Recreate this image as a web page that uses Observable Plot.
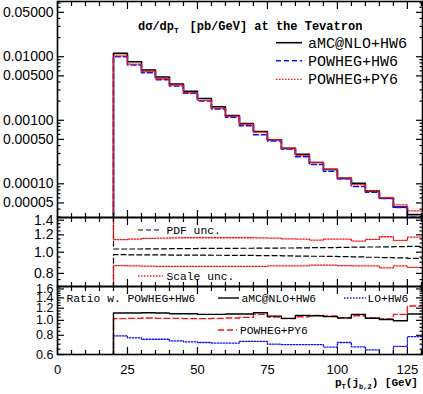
<!DOCTYPE html>
<html><head><meta charset="utf-8">
<script src="https://cdn.jsdelivr.net/npm/d3@7"></script>
<script src="https://cdn.jsdelivr.net/npm/@observablehq/plot@0.6"></script>
<style>
body{margin:0;background:#fff;}
#wrap{position:relative;width:423px;height:394px;overflow:hidden;background:#fff;}
#wrap svg{position:absolute;left:0;}
</style></head><body><div id="wrap"></div>
<script>
// ---- data (bin lower edges, 5 GeV bins) ----
const binLo = [20,25,30,35,40,45,50,55,60,65,70,75,80,85,90,95,100,105,110,115,120,125];
const binHi = 130;
const aMC = [0.0113,0.00835,0.00619,0.00481,0.00373,0.00287,0.00220,0.00163,0.00119,0.000891,0.000667,0.000495,0.000361,0.000291,0.000216,0.000169,0.000122,0.000102,0.0000766,0.0000594,0.0000430,0.0000327];
const powhegHW6 = [0.0100,0.00741,0.00561,0.00436,0.00347,0.00267,0.00202,0.00151,0.00112,0.000820,0.000593,0.000472,0.000354,0.000268,0.000201,0.000158,0.000120,0.0000907,0.0000738,0.0000589,0.0000425,0.0000297];
const powhegPY6 = [0.0103,0.00764,0.00581,0.00450,0.00358,0.00272,0.00206,0.00155,0.00116,0.000866,0.000649,0.000496,0.000363,0.000283,0.000217,0.000169,0.000124,0.0000972,0.0000768,0.0000604,0.0000465,0.0000375];
const scaleUp = [1.140,1.148,1.156,1.160,1.162,1.164,1.164,1.164,1.164,1.164,1.162,1.160,1.150,1.148,1.136,1.148,1.148,1.124,1.144,1.176,1.132,1.172];
const pdfUp   = [1.034,1.034,1.036,1.036,1.038,1.038,1.040,1.040,1.041,1.042,1.043,1.044,1.045,1.046,1.048,1.050,1.052,1.054,1.056,1.058,1.060,1.063];
const pdfLo   = [0.974,0.972,0.971,0.971,0.970,0.970,0.969,0.968,0.967,0.966,0.965,0.964,0.962,0.960,0.958,0.956,0.954,0.951,0.948,0.945,0.941,0.937];
const scaleLo = [0.868,0.866,0.864,0.862,0.862,0.862,0.862,0.862,0.862,0.862,0.862,0.866,0.866,0.866,0.872,0.872,0.868,0.866,0.866,0.847,0.866,0.852];
const ratioAMC = [1.116,1.116,1.120,1.116,1.105,1.105,1.094,1.094,1.100,1.100,1.120,1.065,1.030,1.078,1.072,1.058,1.038,1.094,1.032,1.013,0.994,1.100];
const ratioPY6 = [1.026,1.031,1.036,1.031,1.031,1.026,1.026,1.031,1.036,1.046,1.094,1.051,1.026,1.056,1.078,1.067,1.036,1.072,1.038,1.023,1.094,1.240];
const ratioLO  = [0.792,0.770,0.754,0.754,0.735,0.725,0.718,0.712,0.712,0.730,0.730,0.700,0.695,0.695,0.695,0.671,0.718,0.673,0.643,0.580,0.677,0.783];
// ---- ticks ----
const xMajor = [0,25,50,75,100,125];
const mainMajor = [0.05,0.01,0.005,0.001,0.0005,0.0001,0.00005];
const midMajor = [1.4,1.2,1.0,0.8];
const ratioMajor = [1.6,1.4,1.2,1.0,0.8,0.6];

const xMinor = d3.range(5,131,5).filter(v => v % 25 !== 0);
const mainMinor = [];
[-5,-4,-3,-2].forEach(e => d3.range(1,10).forEach(k => { const v = k*Math.pow(10,e); if (v>2.95e-5 && v<0.074 && !mainMajor.some(m=>Math.abs(m-v)/v<1e-6)) mainMinor.push(v); }));
const midMinor = d3.range(0.70,1.4401,0.05).filter(v => !midMajor.some(m=>Math.abs(m-v)<1e-6));
const ratioMinor = d3.range(0.60,1.6601,0.05).filter(v => !ratioMajor.some(m=>Math.abs(m-v)<1e-6));

function hist(vals, start) {
  const pts = [{x: binLo[0], y: start}];
  vals.forEach((v,i) => pts.push({x: binLo[i], y: v}));
  pts.push({x: binHi, y: vals[vals.length-1]});
  return pts;
}
const line = (vals, start, o) => Plot.line(hist(vals, start), {x:"x", y:"y", curve:"step-after", clip:true, ...o});

const wrap = document.getElementById("wrap");
const XDOM = [0,130.4];

function panel({top, height, mt, mb, yDomain, yMajor, yMinor, yFmt, yFont, marks, xLabels}) {
  const tickMarks = [
    Plot.axisX({ticks: xMajor, anchor:"bottom", tickSize:-7, fill:"none", label:null, strokeWidth:1.2}),
    Plot.axisX({ticks: xMinor, anchor:"bottom", tickSize:-4, fill:"none", label:null, strokeWidth:1.2}),
    Plot.axisX({ticks: xMajor, anchor:"top", tickSize:-7, fill:"none", label:null, strokeWidth:1.2}),
    Plot.axisX({ticks: xMinor, anchor:"top", tickSize:-4, fill:"none", label:null, strokeWidth:1.2}),
    Plot.axisY({ticks: yMajor, anchor:"left", tickSize:-7, fill:"none", label:null, strokeWidth:1.2}),
    Plot.axisY({ticks: yMinor, anchor:"left", tickSize:-3.5, fill:"none", label:null, strokeWidth:1.2}),
    Plot.axisY({ticks: yMajor, anchor:"right", tickSize:-7, fill:"none", label:null, strokeWidth:1.2}),
    Plot.axisY({ticks: yMinor, anchor:"right", tickSize:-3.5, fill:"none", label:null, strokeWidth:1.2}),
    Plot.text(yMajor, {y: d => d, text: d => yFmt(d), frameAnchor:"left", textAnchor:"end", lineAnchor:"middle", dx:-4, fontSize:yFont, fill:"#000"})
  ];
  if (xLabels) tickMarks.push(Plot.axisX({ticks: xMajor, anchor:"bottom", tickSize:0, tickPadding:10, stroke:"none", label:null, fontSize:13}));
  const svg = Plot.plot({
    width: 423, height, marginLeft: 57, marginRight: 1, marginTop: mt, marginBottom: mb,
    x: {domain: XDOM, axis: null},
    y: {type:"log", domain: yDomain, axis: null},
    style: {background:"transparent", overflow:"visible", fontFamily:"'Liberation Sans', Arial, sans-serif", fontSize:"14px", color:"#000"},
    marks: [...marks, ...tickMarks, Plot.frame({stroke:"#000", strokeWidth:1.6})]
  });
  svg.style.top = top + "px";
  wrap.appendChild(svg);
}

const BLUE = "#1010ff", RED = "#ff1010";
// main panel
panel({top:0, height:218, mt:1, mb:1, yDomain:[2.95e-5, 0.074], yMajor: mainMajor, yMinor: mainMinor, yFmt: d3.format(".5f"), yFont:14,
  marks: [
    line(aMC, 1e-6, {stroke:"#000", strokeWidth:1.6}),
    line(powhegHW6, 1e-6, {stroke:BLUE, strokeWidth:1.6, strokeDasharray:"5,3"}),
    line(powhegPY6, 1e-6, {stroke:RED, strokeWidth:1.3, strokeDasharray:"1.5,1.5"})
  ]});
// uncertainty panel
panel({top:216, height:71, mt:1, mb:1, yDomain:[0.697, 1.44], yMajor: midMajor, yMinor: midMinor, yFmt: d3.format(".1f"), yFont:14,
  marks: [
    line(pdfUp, 10, {stroke:"#000", strokeWidth:1.2, strokeDasharray:"5,3"}),
    line(pdfLo, 0.1, {stroke:"#000", strokeWidth:1.2, strokeDasharray:"5,3"}),
    line(scaleUp, 10, {stroke:RED, strokeWidth:1.3, strokeDasharray:"1.5,1.5"}),
    line(scaleLo, 0.1, {stroke:RED, strokeWidth:1.3, strokeDasharray:"1.5,1.5"})
  ]});
// ratio panel
panel({top:285, height:109, mt:1, mb:40, yDomain:[0.6, 1.66], yMajor: ratioMajor, yMinor: ratioMinor, yFmt: d3.format(".1f"), yFont:12.5, xLabels:true,
  marks: [
    line(ratioLO, 0.1, {stroke:BLUE, strokeWidth:1.3, strokeDasharray:"1.5,1.5"}),
    line(ratioPY6, 0.1, {stroke:RED, strokeWidth:1.4, strokeDasharray:"6,3"}),
    line(ratioAMC, 0.1, {stroke:"#000", strokeWidth:1.4})
  ]});

// ---- overlay: title, legends, axis label ----
const NS = "http://www.w3.org/2000/svg";
const ov = document.createElementNS(NS, "svg");
ov.setAttribute("width", 423); ov.setAttribute("height", 394);
ov.style.top = "0px";
const MONO = "'Liberation Mono', 'Courier New', monospace";
function txt(x, y, parts, size, weight) {
  const t = document.createElementNS(NS, "text");
  t.setAttribute("x", x); t.setAttribute("y", y);
  t.setAttribute("font-family", MONO); t.setAttribute("font-size", size);
  t.setAttribute("font-weight", weight || "normal"); t.setAttribute("fill", "#000");
  parts.forEach(p => {
    const s = document.createElementNS(NS, "tspan");
    s.textContent = p.t;
    if (p.size) s.setAttribute("font-size", p.size);
    if (p.dy) s.setAttribute("dy", p.dy);
    t.appendChild(s);
  });
  t.setAttribute("style", "white-space:pre");
  ov.appendChild(t);
}
function seg(x1, x2, y, stroke, dash, w) {
  const l = document.createElementNS(NS, "line");
  l.setAttribute("x1", x1); l.setAttribute("x2", x2); l.setAttribute("y1", y); l.setAttribute("y2", y);
  l.setAttribute("stroke", stroke); l.setAttribute("stroke-width", w || 1.4);
  if (dash) l.setAttribute("stroke-dasharray", dash);
  ov.appendChild(l);
}
// title
txt(138, 30, [{t:"dσ/dp"},{t:"T", size:8, dy:3}], 12, "bold");
txt(189.5, 30, [{t:"[pb/GeV] at the Tevatron"}], 12, "bold");
// main legend
seg(276, 302, 42.7, "#000", null, 1.6); txt(308, 47.5, [{t:"aMC@NLO+HW6"}], 15);
seg(276, 302, 60.7, BLUE, "5,3", 1.6); txt(308, 65.5, [{t:"POWHEG+HW6"}], 15);
seg(276, 302, 79.3, RED, "1.5,1.5", 1.3); txt(308, 84, [{t:"POWHEG+PY6"}], 15);
// uncertainty legend
seg(138, 161, 230, "#000", "5,3", 1.2); txt(166.5, 234, [{t:"PDF unc."}], 11.3);
seg(138, 163, 276, RED, "1.5,1.5", 1.3); txt(166.5, 280, [{t:"Scale unc."}], 11.3);
// ratio legend
txt(66.5, 302, [{t:"Ratio w. POWHEG+HW6"}], 11.3);
seg(218, 239, 298, "#000", null, 1.4); txt(241.5, 302, [{t:"aMC@NLO+HW6"}], 11.3);
seg(344, 366, 298, BLUE, "1.5,1.5", 1.3); txt(367.5, 302, [{t:"LO+HW6"}], 11.3);
seg(218, 237, 330, RED, "6,3", 1.4); txt(240, 334, [{t:"POWHEG+PY6"}], 11.3);
// x-axis label
txt(335, 386, [{t:"p"},{t:"T", size:7, dy:3},{t:"(j", dy:-3},{t:"b,2", size:7, dy:3},{t:") [GeV]", dy:-3}], 11, "bold");
wrap.appendChild(ov);
</script></body></html>
